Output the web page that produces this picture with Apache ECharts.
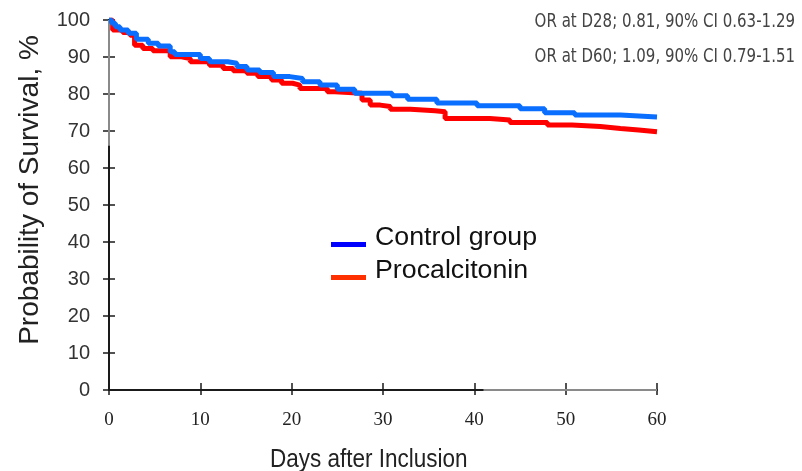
<!DOCTYPE html>
<html><head><meta charset="utf-8">
<script src="https://cdn.jsdelivr.net/npm/echarts@6/dist/echarts.min.js"></script>
<style>html,body{margin:0;padding:0;background:#fff}#c{width:802px;height:471px}</style>
</head><body><div id="c"></div>
<script>
const xTicks = [0, 10, 20, 30, 40, 50, 60];
const yTicks = [0, 10, 20, 30, 40, 50, 60, 70, 80, 90, 100];
const controlDays = [0, 0.3, 0.7, 1.2, 2.1, 3.0, 4.3, 5.4, 6.7, 7.2, 10, 11, 13, 14, 15.1, 16.5, 18, 19.8, 21.2, 23.1, 25, 26.9, 31, 32.7, 35.9, 40.3, 45, 47.7, 51, 56, 60];
const controlSurv = [100, 99.1, 98.2, 97.3, 96.4, 94.8, 93.7, 93.0, 91.4, 90.7, 89.6, 88.7, 88.3, 87.4, 86.5, 85.8, 84.7, 84.2, 83.3, 82.4, 81.3, 80.2, 79.5, 78.6, 77.6, 76.8, 76.0, 74.9, 74.3, 73.8, 73.8];
const pctDays = [0, 0.4, 1.5, 2.3, 2.8, 3.7, 4.8, 6.7, 7.8, 8.9, 11, 12.5, 13.6, 15.1, 16.3, 17.8, 18.9, 20.1, 20.9, 23.9, 24.7, 27.7, 28.6, 29.7, 30.8, 33, 35.7, 36.8, 41.7, 43.9, 48, 50.7, 53.8, 56, 58, 60];
const pctSurv = [100, 97.3, 96.6, 95.9, 93.2, 92.3, 91.7, 90.1, 89.6, 88.7, 87.8, 86.9, 86.3, 85.6, 84.7, 83.8, 82.9, 82.4, 81.5, 80.6, 80.2, 78.4, 77.0, 76.6, 75.9, 75.5, 75.2, 73.4, 73.0, 72.3, 71.6, 71.2, 70.7, 70.3, 69.8, 69.8];
const seriesNames = ['Control group', 'Procalcitonin'];
const annotations = ['OR at D28; 0.81, 90% CI 0.63-1.29', 'OR at D60; 1.09, 90% CI 0.79-1.51'];
const xTitle = 'Days after Inclusion';
const yTitle = 'Probability of Survival, %';
// lighter-drawn stretches of the axis lines in the original scan
const yAxisGrayPart = [[0, 100], [0, 66]];
const xAxisGrayPart = [[41, 0], [60, 0]];

const pairs = (xs, ys) => xs.map((x, i) => [x, ys[i]]);
const chart = echarts.init(document.getElementById('c'), null, {renderer: 'canvas'});
const axCol = '#1a1a1a';
const baseX = {
  type: 'value', min: xTicks[0], max: xTicks[xTicks.length - 1], interval: 10,
  splitLine: {show: false},
  axisLine: {show: true, onZero: false, lineStyle: {color: axCol, width: 2}},
};
const baseY = {
  type: 'value', min: yTicks[0], max: yTicks[yTicks.length - 1], interval: 10,
  splitLine: {show: false},
  axisLine: {show: true, onZero: false, lineStyle: {color: axCol, width: 2}},
};
const legendColors = ['#0000ff', '#ff3000'];
chart.setOption({
  animation: false,
  backgroundColor: '#fff',
  grid: {left: 109, right: 145, top: 20, bottom: 81, containLabel: false, outerBoundsMode: 'none'},
  xAxis: [
    Object.assign({}, baseX, {
      position: 'bottom',
      axisTick: {show: true, inside: false, length: 5, lineStyle: {color: axCol, width: 1.5}},
      axisLabel: {show: true, margin: 30, fontFamily: 'Liberation Serif', fontSize: 19, color: '#222',
        verticalAlign: 'middle',
        formatter: v => xTicks.includes(v) ? String(v) : ''}
    }),
    Object.assign({}, baseX, {
      position: 'bottom',
      axisLine: {show: false},
      axisTick: {show: true, inside: true, length: 7, lineStyle: {color: axCol, width: 1.5}},
      axisLabel: {show: false}
    })
  ],
  yAxis: [
    Object.assign({}, baseY, {
      position: 'left',
      axisTick: {show: true, inside: false, length: 6, lineStyle: {color: axCol, width: 1.5}},
      axisLabel: {show: true, margin: 19, fontFamily: 'Liberation Sans', fontSize: 20, color: '#333',
        formatter: v => yTicks.includes(v) ? String(v) : ''}
    }),
    Object.assign({}, baseY, {
      position: 'left',
      axisLine: {show: false},
      axisTick: {show: true, inside: true, length: 6, lineStyle: {color: axCol, width: 1.5}},
      axisLabel: {show: false}
    })
  ],
  graphic: [
    {type: 'text', x: 795, y: 22, scaleX: 0.79,
      style: {text: annotations[0], font: '19px "DejaVu Sans"', fill: '#444', align: 'right', verticalAlign: 'middle'}},
    {type: 'text', x: 795, y: 57, scaleX: 0.79,
      style: {text: annotations[1], font: '19px "DejaVu Sans"', fill: '#444', align: 'right', verticalAlign: 'middle'}},
    {type: 'text', x: 30, y: 190, rotation: Math.PI / 2,
      style: {text: yTitle, font: '28px "Liberation Sans"', fill: '#222', align: 'center', verticalAlign: 'middle'}},
    {type: 'text', x: 270, y: 460, scaleX: 0.9,
      style: {text: xTitle, font: '25px "Liberation Sans"', fill: '#222', align: 'left', verticalAlign: 'middle'}},
    {type: 'rect', shape: {x: 331, y: 242, width: 35, height: 5}, style: {fill: legendColors[0]}},
    {type: 'rect', shape: {x: 331, y: 275, width: 35, height: 5}, style: {fill: legendColors[1]}},
    {type: 'text', x: 375, y: 238, scaleX: 1.07,
      style: {text: seriesNames[0], font: '25px "Liberation Sans"', fill: '#111', align: 'left', verticalAlign: 'middle'}},
    {type: 'text', x: 375, y: 271, scaleX: 1.07,
      style: {text: seriesNames[1], font: '25px "Liberation Sans"', fill: '#111', align: 'left', verticalAlign: 'middle'}}
  ],
  series: [
    {type: 'line', data: yAxisGrayPart, symbol: 'none', silent: true, z: 3,
     lineStyle: {color: '#8a8a8a', width: 2}},
    {type: 'line', data: xAxisGrayPart, symbol: 'none', silent: true, z: 3,
     lineStyle: {color: '#8a8a8a', width: 2}},
    {name: seriesNames[1], type: 'line', step: 'end', xAxisIndex: 0, yAxisIndex: 0,
     data: pairs(pctDays, pctSurv), showSymbol: false, symbol: 'none', z: 4,
     lineStyle: {color: '#ff0000', width: 5}, itemStyle: {color: '#ff0000'}},
    {name: seriesNames[0], type: 'line', step: 'end', xAxisIndex: 0, yAxisIndex: 0,
     data: pairs(controlDays, controlSurv), showSymbol: false, symbol: 'none', z: 5,
     lineStyle: {color: '#0a6eff', width: 5}, itemStyle: {color: '#0a6eff'}}
  ]
});
</script></body></html>
